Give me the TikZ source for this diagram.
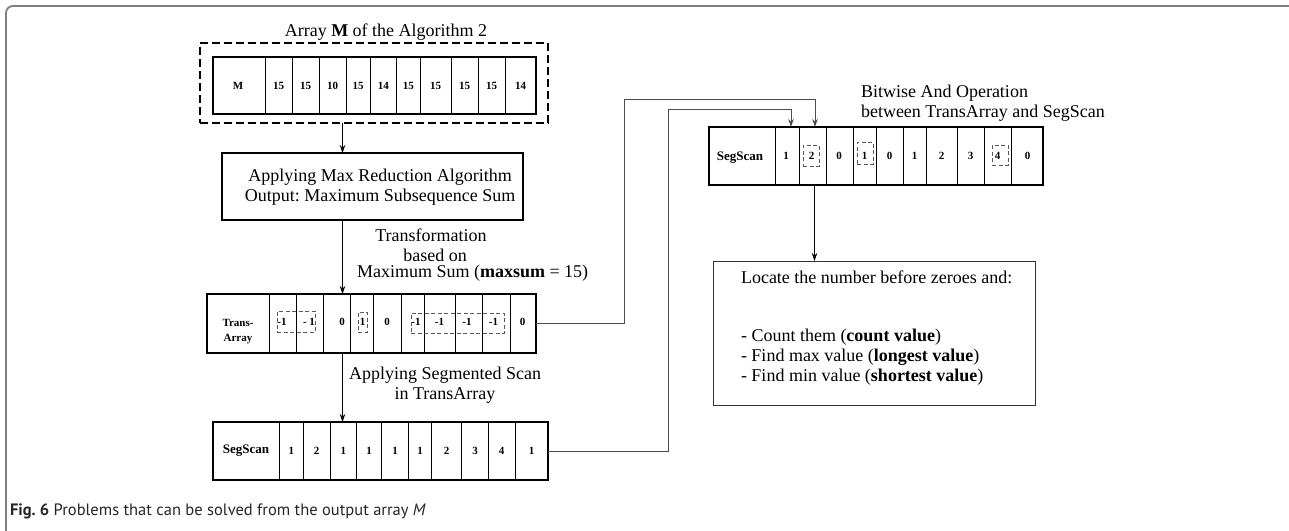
\documentclass[tikz,border=0pt]{standalone}
\usepackage{fontspec}
\setmainfont{Liberation Serif}
\newfontfamily\capfont{PT Sans}
\usetikzlibrary{arrows.meta,calc}
\frenchspacing
\begin{document}
\begin{tikzpicture}[x=1pt,y=-1pt,
  every node/.style={inner sep=0pt, outer sep=0pt},
  txt/.style={font=\fontsize{18}{20}\selectfont},
  num/.style={font=\fontsize{11}{13}\selectfont\bfseries},
  arr/.style={draw, line width=2.4pt, anchor=north west},
  cell/.style={line width=0.7pt},
  dbox/.style={draw, draw=black!65, line width=1pt, dash pattern=on 4pt off 2.5pt},
  conn/.style={line width=0.9pt, draw=black!70},
  arrow/.style={line width=1pt, -{Stealth[length=8pt,width=5.5pt]}},
]
\useasboundingbox (0,0) rectangle (1289,530);
% outer frame
\draw[line width=1.8pt, draw=black!50, rounded corners=7pt] (6,532) -- (6,6) -- (1290,6);

% ---------- Array M ----------
\node[txt] (titleM) at (386,32) {Array \textbf{M} of the Algorithm 2};
\node[draw, line width=1.4pt, dash pattern=on 8pt off 4pt, anchor=north west,
      minimum width=348pt, minimum height=80pt] (dashM) at (200,43) {};
\node[arr, minimum width=323pt, minimum height=57pt] (marr) at (213,57) {};
\foreach \x in {265,292,319,346.5,370,396.7,420,451,478.3,505}
  \draw[cell] (\x,57) -- (\x,114);
\node[num] (mlab) at (238,85.5) {M};
\foreach \x/\v [count=\i] in {278.5/15,305.5/15,332.7/10,358.2/15,383.3/14,408.3/15,435.5/15,464.7/15,491.7/15,520.5/14}
  \node[num] (m\i) at (\x,85.5) {\v};

% ---------- Max reduction box ----------
\node[draw, line width=2pt, anchor=north west, minimum width=301pt, minimum height=67pt] (red) at (222,153) {};
\node[txt, align=center] (redtxt) at (380,187) {Applying Max Reduction Algorithm\\Output: Maximum Subsequence Sum};

\coordinate (ax) at (342.5,0);
\draw[arrow] (dashM.south -| ax) -- (red.north -| ax);

% ---------- Transformation label ----------
\node[txt] (tl1) at (431,235) {Transformation};
\node[txt] (tl2) at (435,255) {based on};
\node[txt, anchor=west] (tl3) at (357,273) {Maximum Sum (\textbf{maxsum} = 15)};

% ---------- Trans array ----------
\node[arr, minimum width=329pt, minimum height=59pt] (trans) at (207,294) {};
\foreach \x in {269,296.7,323.3,350.7,373.3,401.7,424,455,482.7,510}
  \draw[cell] (\x,294) -- (\x,353);
\node[num, align=center, font=\fontsize{11}{15}\selectfont\bfseries] (tlab) at (238,332) {Trans-\\Array};
\foreach \x/\v [count=\i] in {282/-1,309/- 1,342/0,362.5/1,387/0,416/-1,439.5/-1,467/-1,493.5/-1,522.5/0}
  \node[num] (t\i) at (\x,322) {\v};
\node[dbox, anchor=north west, minimum width=38pt, minimum height=21pt] (d1) at (277,311) {};
\node[dbox, anchor=north west, minimum width=9pt, minimum height=20pt] (d2) at (358,312) {};
\node[dbox, anchor=north west, minimum width=93pt, minimum height=20pt] (d3) at (411,313) {};

\draw[arrow] (red.south -| ax) -- (trans.north -| ax);

% ---------- Segmented scan label ----------
\node[txt, align=center] (sl) at (445,385.5) {Applying Segmented Scan\\in TransArray};

% ---------- bottom SegScan ----------
\node[arr, minimum width=335pt, minimum height=58pt] (segbot) at (213,422) {};
\foreach \x in {279.3,303.3,330,356.7,381.7,408.3,431.7,461.7,488.3,515}
  \draw[cell] (\x,422) -- (\x,480);
\node[num, font=\fontsize{13}{15}\selectfont\bfseries] (sblab) at (246,451) {SegScan};
\foreach \x/\v [count=\i] in {291.3/1,316.7/2,343.3/1,369.2/1,395/1,420/1,446.7/2,475/3,501.7/4,531.7/1}
  \node[num] (b\i) at (\x,451) {\v};

\draw[arrow] (trans.south -| ax) -- (segbot.north -| ax);

% ---------- top SegScan ----------
\node[txt, align=left, anchor=west] (bw) at (861,103) {Bitwise And Operation\\between TransArray and SegScan};
\node[arr, minimum width=334pt, minimum height=58pt] (segtop) at (709,127) {};
\foreach \x in {775,799,826.7,853.3,876.7,903.3,926.7,957.7,984.3,1011.7}
  \draw[cell] (\x,127) -- (\x,185);
\node[num, font=\fontsize{13}{15}\selectfont\bfseries] (stlab) at (740,158) {SegScan};
\foreach \x/\v [count=\i] in {786/1,811.5/2,839/0,864.5/1,889.5/0,914.5/1,941.5/2,970.5/3,997.5/4,1027.5/0}
  \node[num] (s\i) at (\x,156) {\v};
\node[dbox, anchor=north west, minimum width=16pt, minimum height=21pt] (e1) at (803,145) {};
\node[dbox, anchor=north west, minimum width=16pt, minimum height=22pt] (e2) at (857,142) {};
\node[dbox, anchor=north west, minimum width=16pt, minimum height=20pt] (e3) at (992,145) {};

% connectors into top SegScan
\coordinate (c1) at (624,99);
\coordinate (c2) at (668,109);
\coordinate (x1) at (815,0);
\coordinate (x2) at (791,0);
\draw[conn, arrow] (trans.east) -| (c1) -| (segtop.north -| x1);
\draw[conn, arrow] (segbot.east) -| (c2) -| (segtop.north -| x2);

% ---------- Locate box ----------
\node[draw, line width=1pt, draw=black!80, anchor=north west, minimum width=322pt, minimum height=144pt] (loc) at (713,261) {};
\node[txt, align=left, anchor=west] (loctxt) at (741,328)
  {Locate the number before zeroes and:\\[38pt]- Count them (\textbf{count value})\\- Find max value (\textbf{longest value})\\- Find min value (\textbf{shortest value})};
\coordinate (lx) at (814.5,0);
\draw[arrow] (segtop.south -| lx) -- (loc.north -| lx);

% ---------- caption ----------
\node[anchor=west, font=\capfont\fontsize{16.5}{18}\selectfont, text=black!85] (cap) at (10,511)
  {\textbf{Fig. 6} Problems that can be solved from the output array \textit{M}};
\end{tikzpicture}
\end{document}
